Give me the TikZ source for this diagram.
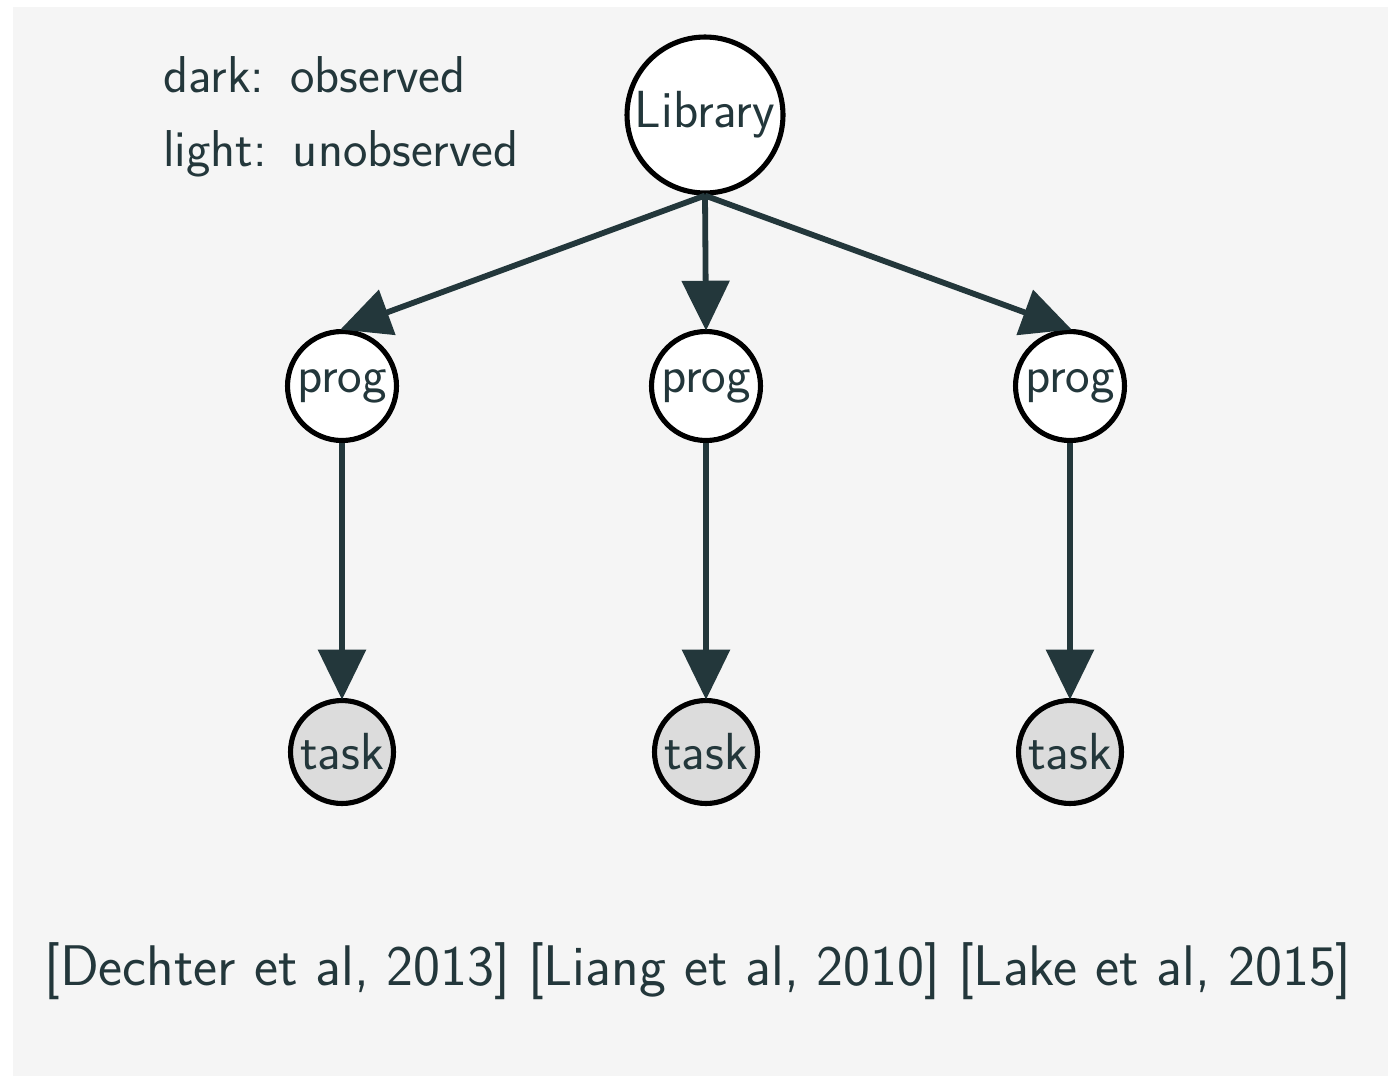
\documentclass[tikz,border=0pt]{standalone}
\usepackage{fontspec}
\usetikzlibrary{arrows.meta}
\definecolor{slate}{HTML}{23373B}
\definecolor{paper}{HTML}{F5F5F5}
\definecolor{obsfill}{HTML}{DCDCDC}
\begin{document}
\begin{tikzpicture}[x=0.02cm,y=-0.02cm,
  every node/.style={font=\sffamily\fontsize{29.7}{35}\selectfont, text=slate},
  var/.style={circle, draw=black, line width=2.9pt, fill=white, inner sep=0pt},
  libnode/.style={var, minimum size=3.12cm},
  prognode/.style={var, minimum size=2.18cm},
  tasknode/.style={var, fill=obsfill, minimum size=2.06cm},
  edge/.style={draw=slate, line width=3.3pt,
    -{Triangle[length=1.0cm,width=0.94cm]}, shorten >=-1pt},
  legend/.style={anchor=base west, inner sep=0pt, font=\sffamily\fontsize{29.5}{35}\selectfont},
]
% page and backdrop
\useasboundingbox (0,0) rectangle (1388,1076);
\fill[white] (0,0) rectangle (1388,1076);
\fill[paper] (13,7) rectangle (1388,1076);

% legend
\node[legend] (dark)  at (163,92)  {dark:\hspace{0.5em}observed};
\node[legend] (light) at (163,166) {light:\hspace{0.5em}unobserved};

% variables
\node[libnode] (lib) at (705,115) {Library};
\node[prognode] (p1) at (342,386) {prog};
\node[prognode] (p2) at (706,386) {prog};
\node[prognode] (p3) at (1070,386) {prog};
\node[tasknode] (t1) at (342,752) {task};
\node[tasknode] (t2) at (706,752) {task};
\node[tasknode] (t3) at (1070,752) {task};

% dependencies
\draw[edge] (lib.south) -- (p1.north);
\draw[edge] (lib.south) -- (p2.north);
\draw[edge] (lib.south) -- (p3.north);
\draw[edge] (p1.south) -- (t1.north);
\draw[edge] (p2.south) -- (t2.north);
\draw[edge] (p3.south) -- (t3.north);

% references
\node[anchor=base, inner sep=0pt, font=\sffamily\fontsize{32.6}{38}\selectfont] (refs) at (698,985)
  {[Dechter et al, 2013] [Liang et al, 2010] [Lake et al, 2015]};
\end{tikzpicture}
\end{document}
